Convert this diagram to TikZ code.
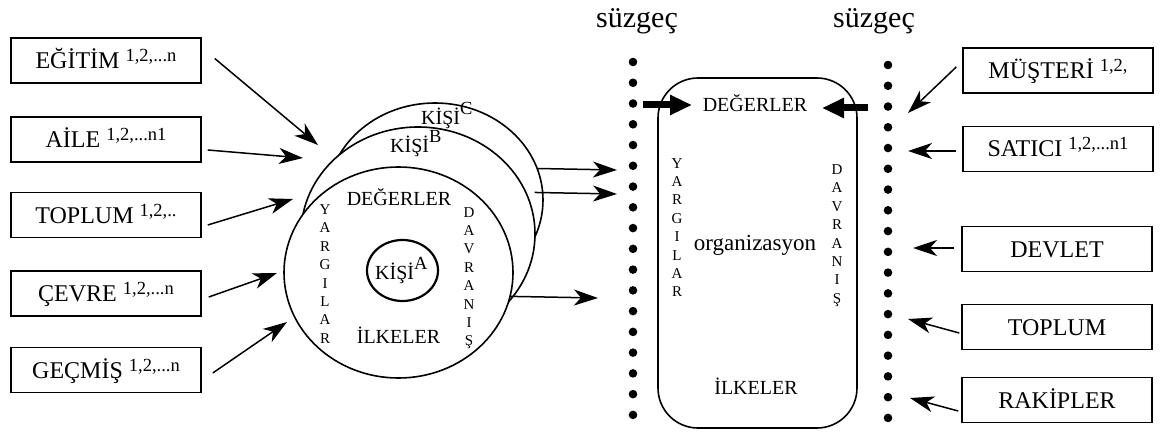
\documentclass[tikz,border=0pt]{standalone}
\usepackage{fontspec}
\setmainfont{Liberation Serif}
\usetikzlibrary{arrows.meta,shapes.geometric}
\newcommand\supx[2][7pt]{\raisebox{#1}{\fontsize{18.5}{18.5}\selectfont #2}}
\begin{document}
\begin{tikzpicture}[x=1pt,y=-1pt,
  box/.style={draw,line width=1.5pt,minimum width=190pt,minimum height=45pt,inner sep=0pt,
    text height=16pt,text depth=0pt,font=\fontsize{24}{24}\selectfont},
  arr/.style={line width=1.5pt,-{Stealth[length=24pt,width=16pt,inset=7pt]}},
  bigarr/.style={line width=7pt,-{Triangle[length=22pt,width=19pt]}},
  ring/.style={ellipse,draw,line width=1.6pt,fill=white,inner sep=0pt},
  vlet/.style={font=\fontsize{15}{18.4}\selectfont,align=center,inner sep=0pt,text depth=0pt},
  lab/.style={inner sep=0pt,anchor=base},
  big/.style={font=\fontsize{20}{20}\selectfont},
  kisi/.style={inner sep=0pt,anchor=base west,font=\fontsize{20}{20}\selectfont},
  dot/.style={fill=black}
]
\useasboundingbox (0,0) rectangle (1160,433);

% left boxes
\node[box] (e1) at (106,60.5) {EĞİTİM \supx{1,2,...n}};
\node[box] (e2) at (106,139.5) {AİLE \supx{1,2,...n1}};
\node[box] (e3) at (106,215) {TOPLUM \supx{1,2,..}};
\node[box] (e4) at (106,293.5) {ÇEVRE \supx{1,2,...n}};
\node[box] (e5) at (106,370) {GEÇMİŞ \supx{1,2,...n}};

% right boxes
\node[box] (r1) at (1058,70.5) {MÜŞTERİ \supx{1,2,}};
\node[box] (r2) at (1058,149) {SATICI \supx{1,2,...n1}};
\node[box] (r3) at (1057,249) {DEVLET};
\node[box] (r4) at (1057,327) {TOPLUM};
\node[box] (r5) at (1057,400) {RAKİPLER};

% person circles
\node[ring,minimum width=216pt,minimum height=194pt] (cC) at (435,200) {};
\node[ring,minimum width=234pt,minimum height=214pt] (cB) at (418,234) {};
\node[ring,minimum width=229pt,minimum height=211pt] (cA) at (398.5,272.5) {};
\node[ellipse,draw,line width=2.2pt,minimum width=71pt,minimum height=61pt,inner sep=0pt] (kA) at (402.5,270.5) {};

\node[kisi] (kC) at (421,125) {KİŞİ\supx[10pt]{C}};
\node[kisi] (kB) at (390,153) {KİŞİ\supx[10pt]{B}};
\node[kisi] (kAt) at (375,279) {KİŞİ\supx[10pt]{A}};

\node[lab,big] (cdeg) at (399,205) {DEĞERLER};
\node[lab,big] (cilk) at (398.5,343) {İLKELER};
\node[vlet] (cyar) at (325,274) {Y\\A\\R\\G\\I\\L\\A\\R};
\node[vlet] (cdav) at (469,276.5) {D\\A\\V\\R\\A\\N\\I\\Ş};

% filters
\node[lab,font=\fontsize{30}{30}\selectfont] (s1) at (637,28) {süzgeç};
\node[lab,font=\fontsize{30}{30}\selectfont] (s2) at (874,28) {süzgeç};
\foreach \i in {0,...,17} {
  \fill[dot] (633,62+20.76*\i) circle (4.3pt);
  \fill[dot] (888,65+20.76*\i) circle (4.3pt);
}

% organization
\node[draw,line width=1.6pt,rounded corners=40pt,minimum width=199pt,minimum height=350pt,inner sep=0pt] (org) at (757.5,253) {};
\node[lab,font=\fontsize{20}{20}\selectfont] (odeg) at (755,112) {DEĞERLER};
\node[lab,font=\fontsize{23}{23}\selectfont] (oorg) at (755,251) {organizasyon};
\node[lab,font=\fontsize{20}{20}\selectfont] (oilk) at (756,394) {İLKELER};
\node[vlet] (oyar) at (677,227.5) {Y\\A\\R\\G\\I\\L\\A\\R};
\node[vlet] (odav) at (837,234) {D\\A\\V\\R\\A\\N\\I\\Ş};

% arrow end points
\coordinate (t1) at (318,145);
\coordinate (t2) at (303,158);
\coordinate (t3) at (293,199);
\coordinate (t4) at (277,273);
\coordinate (t5) at (287,322);
\coordinate (u1) at (908,113);
\coordinate (u2) at (908,151);
\coordinate (u3) at (913,248);
\coordinate (u4) at (908,319);
\coordinate (u5) at (910,398);
\coordinate (f1) at (617,170);
\coordinate (f2) at (617,194);
\coordinate (f3) at (598,298);
\coordinate (hL0) at (643,105);
\coordinate (hL1) at (692,105);
\coordinate (hR0) at (868,108);
\coordinate (hR1) at (822,108);

% left arrows
\draw[arr] ([xshift=13pt,yshift=2pt]e1.east) -- (t1);
\draw[arr] ([xshift=6pt,yshift=-10.5pt]e2.east) -- (t2);
\draw[arr] ([xshift=6pt,yshift=-10pt]e3.east) -- (t3);
\draw[arr] ([xshift=7pt,yshift=-3.5pt]e4.east) -- (t4);
\draw[arr] ([xshift=11pt,yshift=-3pt]e5.east) -- (t5);

% right arrows
\draw[arr] ([xshift=-6pt,yshift=3.5pt]r1.west) -- (u1);
\draw[arr] ([xshift=-6pt,yshift=-2pt]r2.west) -- (u2);
\draw[arr] ([xshift=-7pt,yshift=1pt]r3.west) -- (u3);
\draw[arr] ([xshift=-2pt,yshift=-6pt]r4.west) -- (u4);
\draw[arr] ([xshift=-3pt,yshift=-11pt]r5.west) -- (u5);

% circles to filter
\draw[arr] (cC.17.4) -- (f1);
\draw[arr,shorten <=8pt] (cB.21) -- (f2);
\draw[arr] (cA.-12.9) -- (f3);

% thick arrows into organization
\draw[bigarr] (hL0) -- (hL1);
\draw[bigarr] (hR0) -- (hR1);
\end{tikzpicture}
\end{document}
